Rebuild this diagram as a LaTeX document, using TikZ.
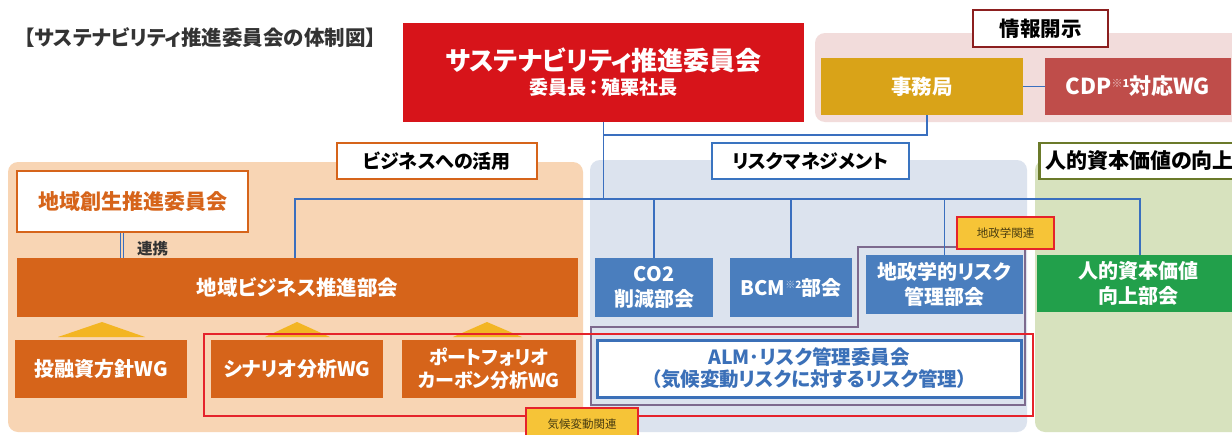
\documentclass[tikz,border=0pt]{standalone}
\usepackage{fontspec}
\setmainfont{Noto Sans CJK JP}[RawFeature={+palt}]
\definecolor{topred}{HTML}{D7141A}
\definecolor{jimgold}{HTML}{D9A318}
\definecolor{cdpred}{HTML}{BF4D4A}
\definecolor{pinkbg}{HTML}{F2DCDB}
\definecolor{infoborder}{HTML}{8C1F1F}
\definecolor{peach}{HTML}{F8D5B4}
\definecolor{bizorange}{HTML}{D6641A}
\definecolor{riskbg}{HTML}{DCE3EE}
\definecolor{riskblue}{HTML}{4A7EBE}
\definecolor{labelblue}{HTML}{3A74C0}
\definecolor{hrbg}{HTML}{D7E2BE}
\definecolor{hrborder}{HTML}{6B7A2A}
\definecolor{hrgreen}{HTML}{22A04B}
\definecolor{connblue}{HTML}{3A6FBF}
\definecolor{framered}{HTML}{E5232B}
\definecolor{framepurple}{HTML}{7D6A8E}
\definecolor{trigold}{HTML}{F3B523}
\definecolor{taggold}{HTML}{F6C437}
\definecolor{tagtext}{HTML}{4A3D10}
\definecolor{titlegray}{HTML}{333333}
\definecolor{almblue}{HTML}{3B70B8}
\begin{document}
\begin{tikzpicture}[x=1pt,y=-1pt,
  box/.style={inner sep=0pt, align=center, text=white, font=\bfseries\fontsize{20}{25}\selectfont},
  conn/.style={draw=connblue, line width=1.8pt},
  panel/.style={rounded corners=10pt},
  lab/.style={fill=white, line width=2.5pt, inner sep=0pt, font=\bfseries\fontsize{19}{22}\selectfont, text=black},
  tagbox/.style={fill=taggold, draw=framered, line width=1.5pt, inner sep=0pt, font=\fontsize{11.5}{13}\selectfont, text=tagtext},
]
\useasboundingbox (0,0) rectangle (1232,434);
\clip (0,0) rectangle (1232,434);
\fill[white] (0,0) rectangle (1232,434);

% title
\node[anchor=west, inner sep=0pt, font=\bfseries\fontsize{20.5}{24}\selectfont, text=titlegray] (title) at (24,38) {【サステナビリティ推進委員会の体制図】};

% panels
\fill[pinkbg, panel] (815,33) rectangle (1260,122);
\fill[peach, panel] (8,162) rectangle (583,432);
\fill[riskbg, panel] (590,160) rectangle (1027,432);
\fill[hrbg, panel] (1035,160) rectangle (1260,432);

% section labels
\node[lab, draw=infoborder, minimum width=135pt, minimum height=37pt, font=\bfseries\fontsize{20.5}{24}\selectfont] (infolab) at (1040.5,28.5) {情報開示};
\node[lab, draw=bizorange, minimum width=200pt, minimum height=36pt] (bizlab) at (437,161) {ビジネスへの活用};
\node[lab, draw=labelblue, minimum width=197pt, minimum height=36pt] (risklab) at (810.5,161) {リスクマネジメント};
\node[lab, draw=hrborder, minimum width=222pt, minimum height=36pt, anchor=west] (hrlab) at (1038,161) {};
\node[anchor=west, inner sep=0pt, font=\bfseries\fontsize{21}{24}\selectfont] (hrlabtext) at (1045,161) {人的資本価値の向上};

% top boxes
\node[box, fill=topred, minimum width=401pt, minimum height=99pt] (top) at (603.5,72.5)
  {{\fontsize{26}{30}\selectfont サステナビリティ推進委員会}\\[-1pt]{\fontsize{19}{23}\selectfont 委員長\,：\,殖栗社長}};
\node[box, fill=jimgold, minimum width=202pt, minimum height=57pt, font=\bfseries\fontsize{20.5}{24}\selectfont] (jim) at (922,86.5) {事務局};
\node[box, fill=cdpred, minimum width=186pt, minimum height=57pt, font=\bfseries\fontsize{22}{24}\selectfont] (cdp) at (1138,86.5)
  {CDP\raisebox{7pt}{\fontsize{11}{11}\selectfont{\color{white!65!cdpred}※}1}対応WG};

% business side
\node[box, fill=white, draw=bizorange, line width=2.5pt, text=bizorange, minimum width=231pt, minimum height=61pt, font=\bfseries\fontsize{21}{24}\selectfont] (chiiki) at (132.5,201.5) {地域創生推進委員会};
\node[box, fill=bizorange, minimum width=561pt, minimum height=59pt, font=\bfseries\fontsize{20.5}{24}\selectfont] (bizbu) at (297.5,287.5) {地域ビジネス推進部会};
\node[anchor=west, inner sep=0pt, text=titlegray, font=\bfseries\fontsize{15.5}{18}\selectfont] (renkei) at (137,249) {連携};

\fill[trigold] (58,337) -- (102,322) -- (145,337) -- cycle;
\fill[trigold] (265,337) -- (297,322) -- (330,337) -- cycle;
\fill[trigold] (453,337) -- (487,322) -- (522,337) -- cycle;

\node[box, fill=bizorange, minimum width=172pt, minimum height=58pt] (wgone) at (101,369) {投融資方針WG};
\node[box, fill=bizorange, minimum width=172pt, minimum height=58pt] (wgtwo) at (297,369) {シナリオ分析WG};
\node[box, fill=bizorange, minimum width=174pt, minimum height=58pt, font=\bfseries\fontsize{19}{23}\selectfont] (wgthree) at (489,369) {ポートフォリオ\\カーボン分析WG};

% risk side
\node[box, fill=riskblue, minimum width=118pt, minimum height=59pt] (co2) at (654,287.5) {CO2\\削減部会};
\node[box, fill=riskblue, minimum width=122pt, minimum height=59pt] (bcm) at (791,287.5)
  {BCM\raisebox{7pt}{\fontsize{10}{10}\selectfont{\color{white!60!riskblue}※}2}部会};
\node[box, fill=riskblue, minimum width=157pt, minimum height=59pt] (geo) at (944.5,284.5) {地政学的リスク\\管理部会};
\node[box, fill=white, draw=almblue, line width=3pt, text=almblue, minimum width=424pt, minimum height=57pt, font=\bfseries\fontsize{19.5}{22}\selectfont] (alm) at (809,368.5)
  {ALM･リスク管理委員会\\（気候変動リスクに対するリスク管理）};

% human capital
\node[box, fill=hrgreen, minimum width=203pt, minimum height=57pt] (hrbu) at (1138.5,283.5) {人的資本価値\\向上部会};

% frames
\draw[framepurple, line width=2pt] (591,327) -- (858,327) -- (858,247) -- (1025,247) -- (1025,405) -- (591,405) -- cycle;
\draw[framered, line width=2pt] (204,334) rectangle (1033,416);

% connectors
\coordinate (hubL) at (295,199);
\coordinate (hubR) at (1140,199);
\coordinate (trunk) at (top.south |- hubL);
\coordinate (jimdrop) at (927,0);
\coordinate (jimhub) at (top.south |- 0,135);
\draw[conn] (top.south) -- (trunk);
\draw[conn] (bizbu.north -| hubL) -- (hubL) -- (hubR) -- (hrbu.north -| hubR);
\draw[conn] (co2.north) -- (co2.north |- hubL);
\draw[conn] (bcm.north) -- (bcm.north |- hubL);
\draw[conn] (geo.north) -- (geo.north |- hubL);
\draw[conn] (jim.south -| jimdrop) -- (jimdrop |- jimhub) -- (jimhub);
\draw[conn] (jim.east) -- (cdp.west);
\draw[connblue, line width=1.2pt, double=peach, double distance=2.5pt] (chiiki.south -| 122,0) -- (bizbu.north -| 122,0);

% tags
\node[tagbox, minimum width=97pt, minimum height=32pt] (geotag) at (1005.5,233) {地政学関連};
\node[tagbox, minimum width=112pt, minimum height=36pt, anchor=north] (climtag) at (582,407) {};
\node[inner sep=0pt, font=\fontsize{11.5}{13}\selectfont, text=tagtext] (climtext) at (582,424) {気候変動関連};
\end{tikzpicture}
\end{document}
